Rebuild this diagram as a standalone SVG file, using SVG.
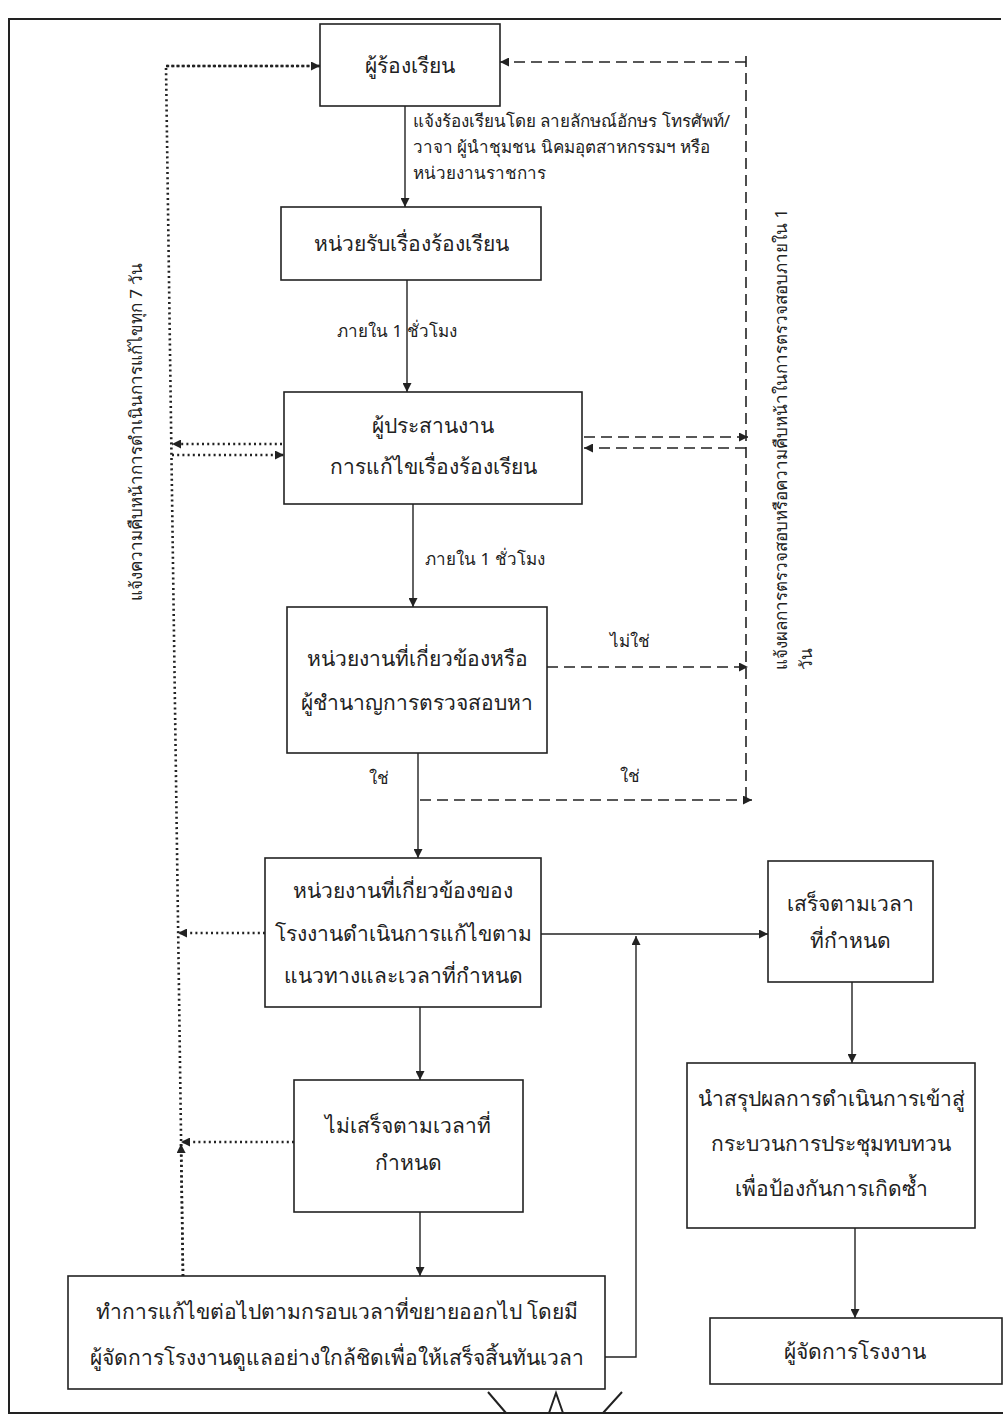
<svg xmlns="http://www.w3.org/2000/svg" width="1003" height="1417" viewBox="0 0 1003 1417">
<style>
.box{fill:#fff;stroke:#222;stroke-width:1.6}
.t{font-family:"Noto Sans","DejaVu Sans",sans-serif;font-size:21px;fill:#222;text-anchor:middle}
.l{font-family:"Noto Sans","DejaVu Sans",sans-serif;font-size:17px;fill:#222}
.solid{fill:none;stroke:#222;stroke-width:1.4}
.dash{fill:none;stroke:#222;stroke-width:1.6;stroke-dasharray:11 6}
.dot{fill:none;stroke:#222;stroke-width:2.6;stroke-dasharray:2 3.2}
</style>
<defs>
<marker id="ah" viewBox="0 0 10 10" refX="10" refY="5" markerWidth="11" markerHeight="9" markerUnits="userSpaceOnUse" orient="auto">
<path d="M0,0 L10,5 L0,10 z" fill="#222"/>
</marker>
</defs>
<rect width="1003" height="1417" fill="#fff"/>
<g id="frame">
<path d="M1001,19 L9,19 L9,1413 L1003,1413" fill="none" stroke="#222" stroke-width="2"/>
<path d="M488,1392 L506,1413 M549,1413 L556,1393 L563,1413 M622,1392 L603,1413" fill="none" stroke="#222" stroke-width="2"/>
</g>
<g id="connectors">
<line class="solid" x1="405" y1="106" x2="405" y2="207" marker-end="url(#ah)"/>
<line class="solid" x1="407" y1="280" x2="407" y2="392" marker-end="url(#ah)"/>
<line class="solid" x1="413" y1="504" x2="413" y2="607" marker-end="url(#ah)"/>
<line class="solid" x1="418" y1="753" x2="418" y2="858" marker-end="url(#ah)"/>
<line class="solid" x1="541" y1="934" x2="768" y2="934" marker-end="url(#ah)"/>
<line class="solid" x1="420" y1="1007" x2="420" y2="1080" marker-end="url(#ah)"/>
<line class="solid" x1="420" y1="1212" x2="420" y2="1276" marker-end="url(#ah)"/>
<polyline class="solid" points="605,1357 636,1357 636,936" marker-end="url(#ah)"/>
<line class="solid" x1="852" y1="982" x2="852" y2="1063" marker-end="url(#ah)"/>
<line class="solid" x1="855" y1="1228" x2="855" y2="1318" marker-end="url(#ah)"/>
<line class="dash" x1="746" y1="56" x2="746" y2="800"/>
<line class="dash" x1="746" y1="62" x2="500" y2="62" marker-end="url(#ah)"/>
<line class="dash" x1="584" y1="437" x2="748" y2="437" marker-end="url(#ah)"/>
<line class="dash" x1="746" y1="448" x2="584" y2="448" marker-end="url(#ah)"/>
<line class="dash" x1="547" y1="667" x2="748" y2="667" marker-end="url(#ah)"/>
<line class="dash" x1="420" y1="800" x2="752" y2="800" marker-end="url(#ah)"/>
<polyline class="dot" points="320,66 166,66 183,1277"/>
<line class="dot" x1="166" y1="66" x2="320" y2="66" marker-end="url(#ah)"/>
<line class="dot" x1="282" y1="444" x2="172" y2="444" marker-end="url(#ah)"/>
<line class="dot" x1="172" y1="455" x2="284" y2="455" marker-end="url(#ah)"/>
<line class="dot" x1="265" y1="933" x2="178" y2="933" marker-end="url(#ah)"/>
<line class="dot" x1="294" y1="1142" x2="181" y2="1142" marker-end="url(#ah)"/>
<line class="dot" x1="183" y1="1276" x2="181" y2="1144" marker-end="url(#ah)"/>
<text class="l" x="413" y="127">แจ้งร้องเรียนโดย ลายลักษณ์อักษร โทรศัพท์/</text>
<text class="l" x="413" y="153">วาจา ผู้นำชุมชน นิคมอุตสาหกรรมฯ หรือ</text>
<text class="l" x="413" y="179">หน่วยงานราชการ</text>
<text class="l" x="337" y="337" font-size="19">ภายใน 1 ชั่วโมง</text>
<text class="l" x="425" y="565" font-size="19">ภายใน 1 ชั่วโมง</text>
<text class="l" x="610" y="647" font-size="19">ไม่ใช่</text>
<text class="l" x="369" y="784" font-size="19">ใช่</text>
<text class="l" x="620" y="782" font-size="19">ใช่</text>
<text class="l" transform="translate(142,432) rotate(-90)" text-anchor="middle" font-size="19">แจ้งความคืบหน้าการดำเนินการแก้ไขทุก 7 วัน</text>
<text class="l" transform="translate(787,670) rotate(-90)" font-size="19">แจ้งผลการตรวจสอบหรือความคืบหน้าในการตรวจสอบภายใน 1</text>
<text class="l" transform="translate(812,670) rotate(-90)" font-size="19">วัน</text>
</g>
<g id="n1"><rect class="box" x="320" y="24" width="180" height="82"/><text class="t" x="410" y="73">ผู้ร้องเรียน</text></g>
<g id="n2"><rect class="box" x="281" y="207" width="260" height="73"/><text class="t" x="411" y="251">หน่วยรับเรื่องร้องเรียน</text></g>
<g id="n3"><rect class="box" x="284" y="392" width="298" height="112"/><text class="t" x="433" y="433">ผู้ประสานงาน</text><text class="t" x="433" y="474">การแก้ไขเรื่องร้องเรียน</text></g>
<g id="n4"><rect class="box" x="287" y="607" width="260" height="146"/><text class="t" x="417" y="666">หน่วยงานที่เกี่ยวข้องหรือ</text><text class="t" x="417" y="710">ผู้ชำนาญการตรวจสอบหา</text></g>
<g id="n5"><rect class="box" x="265" y="858" width="276" height="149"/><text class="t" x="403" y="898">หน่วยงานที่เกี่ยวข้องของ</text><text class="t" x="403" y="941">โรงงานดำเนินการแก้ไขตาม</text><text class="t" x="403" y="983">แนวทางและเวลาที่กำหนด</text></g>
<g id="n6"><rect class="box" x="294" y="1080" width="229" height="132"/><text class="t" x="408" y="1133">ไม่เสร็จตามเวลาที่</text><text class="t" x="408" y="1170">กำหนด</text></g>
<g id="n7"><rect class="box" x="68" y="1276" width="537" height="113"/><text class="t" x="337" y="1319">ทำการแก้ไขต่อไปตามกรอบเวลาที่ขยายออกไป โดยมี</text><text class="t" x="337" y="1365">ผู้จัดการโรงงานดูแลอย่างใกล้ชิดเพื่อให้เสร็จสิ้นทันเวลา</text></g>
<g id="n8"><rect class="box" x="768" y="861" width="165" height="121"/><text class="t" x="850" y="911">เสร็จตามเวลา</text><text class="t" x="850" y="948">ที่กำหนด</text></g>
<g id="n9"><rect class="box" x="687" y="1063" width="288" height="165"/><text class="t" x="831" y="1106">นำสรุปผลการดำเนินการเข้าสู่</text><text class="t" x="831" y="1151">กระบวนการประชุมทบทวน</text><text class="t" x="831" y="1196">เพื่อป้องกันการเกิดซ้ำ</text></g>
<g id="n10"><rect class="box" x="710" y="1318" width="292" height="66"/><text class="t" x="855" y="1359">ผู้จัดการโรงงาน</text></g>
</svg>
